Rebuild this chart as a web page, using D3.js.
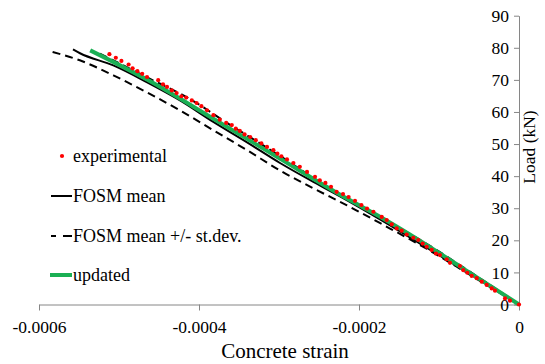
<!DOCTYPE html>
<html><head><meta charset="utf-8">
<script src="https://cdn.jsdelivr.net/npm/d3@7/dist/d3.min.js"></script>
<style>
html,body{margin:0;padding:0;background:#fff;}
svg{display:block;}
svg text{font-family:'Liberation Serif','Times New Roman',serif !important;}
</style></head>
<body>
<svg id="chart" width="545" height="364"></svg>
<script>
// ---- data (strain, load kN) ----
const xTicks = [-0.0006, -0.0004, -0.0002, 0];
const xTickLabels = ["-0.0006", "-0.0004", "-0.0002", "0"];
const yTicks = [0, 10, 20, 30, 40, 50, 60, 70, 80, 90];
const yTickLabels = ["0","10","20","30","40","50","60","70","80","90"];
const legendLabels = ["experimental", "FOSM mean", "FOSM mean +/- st.dev.", "updated"];

const experimentalStrain = [-5.12e-4,-5.04e-4,-4.97e-4,-4.88e-4,-4.83e-4,-4.77e-4,-4.71e-4,-4.65e-4,-4.51e-4,-4.45e-4,
  -4.40e-4,-4.34e-4,-4.28e-4,-4.22e-4,-4.16e-4,-4.09e-4,-4.03e-4,-3.97e-4,-3.90e-4,-3.82e-4,
  -3.74e-4,-3.66e-4,-3.59e-4,-3.54e-4,-3.49e-4,-3.43e-4,-3.36e-4,-3.29e-4,-3.22e-4,-3.15e-4,
  -3.07e-4,-3.02e-4,-2.97e-4,-2.90e-4,-2.82e-4,-2.74e-4,-2.65e-4,-2.55e-4,-2.49e-4,-2.42e-4,
  -2.35e-4,-2.28e-4,-2.20e-4,-2.13e-4,-2.05e-4,-1.97e-4,-1.90e-4,-1.82e-4,-1.716e-4,-1.654e-4,
  -1.591e-4,-1.529e-4,-1.466e-4,-1.404e-4,-1.321e-4,-1.259e-4,-1.204e-4,-1.154e-4,-1.091e-4,-1.038e-4,
  -0.988e-4,-0.904e-4,-0.863e-4,-0.738e-4,-0.696e-4,-0.646e-4,-0.591e-4,-0.529e-4,-0.466e-4,-0.404e-4,
  -0.341e-4,-0.300e-4,-0.175e-4,-0.113e-4,0];
const experimentalLoad = [78.0,76.9,75.9,74.8,73.6,72.7,71.9,70.9,69.9,68.6,
  67.8,66.7,65.9,64.9,64.5,63.6,62.8,61.8,60.5,59.0,
  57.6,56.6,55.9,54.8,54.1,53.0,52.2,51.2,50.2,49.1,
  48.1,47.0,46.2,45.2,44.1,42.9,41.3,39.8,38.7,37.9,
  36.7,35.1,34.4,33.5,32.3,31.0,29.9,28.9,27.3,26.3,
  25.0,23.7,23.0,21.8,20.8,20.1,19.0,18.0,17.0,15.9,
  15.4,14.1,13.0,12.0,10.7,9.9,8.9,8.2,7.1,6.1,
  5.0,4.3,1.9,1.2,0];

const meanStrain = [-5.575e-4,-5.4875e-4,-5.071e-4,-4.654e-4,-4.2375e-4,-3.821e-4,-3.404e-4,-2.9875e-4,-2.571e-4,-2.154e-4,-1.7375e-4,-1.2375e-4,-0.7375e-4,-0.36e-4,0];
const meanLoad   = [79.5,78.3,74.5,69.3,63.6,56.9,50.6,44.1,38.2,32.5,26.5,19.0,11.4,5.6,0];

const lowerStrain = [-5.83e-4,-5.49e-4,-5.07e-4,-4.65e-4,-4.24e-4,-3.82e-4,-3.40e-4,-2.99e-4,-2.57e-4,-2.15e-4,-1.74e-4,-1.15e-4,-0.74e-4,-0.36e-4,0];
const lowerLoad   = [78.7,76.1,71.4,66.1,60.5,54.3,48.1,41.8,36.2,30.9,25.4,17.3,11.2,5.4,0];

const upperStrain = [-5.24e-4,-4.70e-4,-4.05e-4,-3.70e-4,-3.00e-4,-2.36e-4,-1.82e-4,-1.20e-4,-0.60e-4,0];
const upperLoad   = [78.2,71.4,63.1,57.4,46.5,36.1,28.4,19.6,10.0,0];

const updatedStrain = [-5.36e-4,-4.65e-4,-3.82e-4,-2.99e-4,-2.15e-4,-1.70e-4,-1.24e-4,-0.74e-4,-0.36e-4,0];
const updatedLoad   = [79.2,70.1,57.9,45.5,33.0,26.8,19.9,11.9,5.8,0];

// ---- drawing ----
const svg = d3.select("#chart");
const x = d3.scaleLinear().domain([-0.0006, 0]).range([39, 519]);
const y = d3.scaleLinear().domain([0, 90]).range([304.5, 15.7]);
const axisColor = "#868686";
const serif = "'Liberation Serif', 'Times New Roman', serif";

const zip = (a, b) => a.map((v, i) => [v, b[i]]);
const line = d3.line().x(d => x(d[0])).y(d => y(d[1])).curve(d3.curveMonotoneX);

// x axis
const gx = svg.append("g").attr("transform", `translate(0,${y(0)})`)
  .call(d3.axisBottom(x).tickValues(xTicks).tickFormat((d, i) => xTickLabels[i])
    .tickSizeInner(6).tickSizeOuter(0).tickPadding(10));

// y axis (on the right edge, labels inside)
const gy = svg.append("g").attr("transform", `translate(${x(0)},0)`)
  .call(d3.axisLeft(y).tickValues(yTicks).tickFormat((d, i) => yTickLabels[i])
    .tickSizeInner(5).tickSizeOuter(0).tickPadding(5));

[gx, gy].forEach(g => {
  g.attr("font-family", null);
  g.select(".domain").attr("stroke", axisColor).attr("stroke-width", 1);
  g.selectAll(".tick line").attr("stroke", axisColor).attr("stroke-width", 1);
  g.selectAll("text").style("font-size", "17.5px").attr("fill", "#000");
});

// axis titles
svg.append("text").attr("x", 285).attr("y", 358).attr("text-anchor", "middle")
  .style("font-size", "21px").attr("fill", "#000").text("Concrete strain");
svg.append("text").attr("transform", "translate(535,147) rotate(-90)").attr("text-anchor", "middle")
  .style("font-size", "17.5px").attr("fill", "#000").text("Load (kN)");

// series
svg.append("path").datum(zip(lowerStrain, lowerLoad)).attr("d", line)
  .attr("fill", "none").attr("stroke", "#000").attr("stroke-width", 2).attr("stroke-dasharray", "8,5");
svg.append("path").datum(zip(upperStrain, upperLoad)).attr("d", line)
  .attr("fill", "none").attr("stroke", "#000").attr("stroke-width", 2).attr("stroke-dasharray", "8,5");
svg.append("path").datum(zip(meanStrain, meanLoad)).attr("d", line)
  .attr("fill", "none").attr("stroke", "#000").attr("stroke-width", 2);
svg.append("path").datum(zip(updatedStrain, updatedLoad)).attr("d", line)
  .attr("fill", "none").attr("stroke", "#1aaf54").attr("stroke-width", 4);
svg.append("g").selectAll("circle").data(zip(experimentalStrain, experimentalLoad)).join("circle")
  .attr("cx", d => x(d[0])).attr("cy", d => y(d[1])).attr("r", 2.1).attr("fill", "#ff0000");

// legend
const lg = svg.append("g").attr("fill", "#000");
const rowsY = [156, 196, 236, 275];
lg.append("circle").attr("cx", 62).attr("cy", rowsY[0]).attr("r", 2.1).attr("fill", "#ff0000");
lg.append("line").attr("x1", 51).attr("x2", 72).attr("y1", rowsY[1]).attr("y2", rowsY[1])
  .attr("stroke", "#000").attr("stroke-width", 2);
lg.append("line").attr("x1", 51).attr("x2", 72).attr("y1", rowsY[2]).attr("y2", rowsY[2])
  .attr("stroke", "#000").attr("stroke-width", 2).attr("stroke-dasharray", "5,7,9");
lg.append("line").attr("x1", 50).attr("x2", 72).attr("y1", rowsY[3]).attr("y2", rowsY[3])
  .attr("stroke", "#1aaf54").attr("stroke-width", 4);
legendLabels.forEach((t, i) => {
  lg.append("text").attr("x", 73).attr("y", rowsY[i] + 6).style("font-size", "18px").text(t);
});
svg.selectAll("text").style("font-family", serif);
</script>
</body></html>
